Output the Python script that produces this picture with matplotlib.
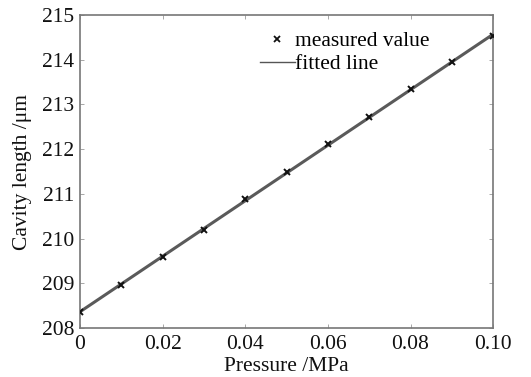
import numpy as np
import matplotlib
matplotlib.use("Agg")
import matplotlib.pyplot as plt
from matplotlib.lines import Line2D

pressure = [0.0, 0.01, 0.02, 0.03, 0.04, 0.05, 0.06, 0.07, 0.08, 0.09, 0.10]
cavity = [208.36, 208.97, 209.59, 210.19, 210.88, 211.50, 212.11, 212.73, 213.34, 213.94, 214.53]
xticks = [0, 0.02, 0.04, 0.06, 0.08, 0.10]
xticklabels = ["0", "0.02", "0.04", "0.06", "0.08", "0.10"]
yticks = [208, 209, 210, 211, 212, 213, 214, 215]

plt.rcParams['font.family'] = ['Liberation Serif', 'DejaVu Serif']

fig = plt.figure(figsize=(5.31, 3.77), dpi=100)
ax = fig.add_axes([0.1507, 0.13, 0.778, 0.830])

coef = np.polyfit(pressure, cavity, 1)
xf = np.array([pressure[0], pressure[-1]])
ax.plot(xf, np.polyval(coef, xf), color='#5a5a5a', lw=2.2, zorder=2)
ax.plot(pressure, cavity, ls='none', marker='x', color='#111111', ms=5, mew=1.4, zorder=3)

ax.set_xlim(0, 0.10)
ax.set_ylim(208, 215)
ax.set_xticks(xticks)
ax.set_xticklabels(xticklabels)
ax.set_yticks(yticks)
ax.tick_params(direction='in', length=3, width=0.6, colors='#999999', labelcolor='#111111',
               labelsize=15.5, top=True, right=True)
ax.tick_params(axis='x', pad=5)
ax.tick_params(axis='y', pad=4)
for s in ax.spines.values():
    s.set_color('#777777')
    s.set_linewidth(1.2)

ax.set_xlabel('Pressure /MPa', fontsize=15.5, color='#111111', labelpad=2)
ax.set_ylabel('Cavity length /μm', fontsize=15.5, color='#111111', labelpad=7)

h_meas = Line2D([], [], ls='none', marker='x', color='#111111', ms=4, mew=1.3)
h_fit = Line2D([], [], color='#555555', lw=1.0)
ax.legend([h_meas, h_fit], ['measured value', 'fitted line'], loc='upper left',
          bbox_to_anchor=(0.405, 0.99), frameon=False, fontsize=15.5, handlelength=1.6,
          handletextpad=0.0, labelspacing=0.15, borderaxespad=0.2)

fig.savefig('out.png', dpi=100)
